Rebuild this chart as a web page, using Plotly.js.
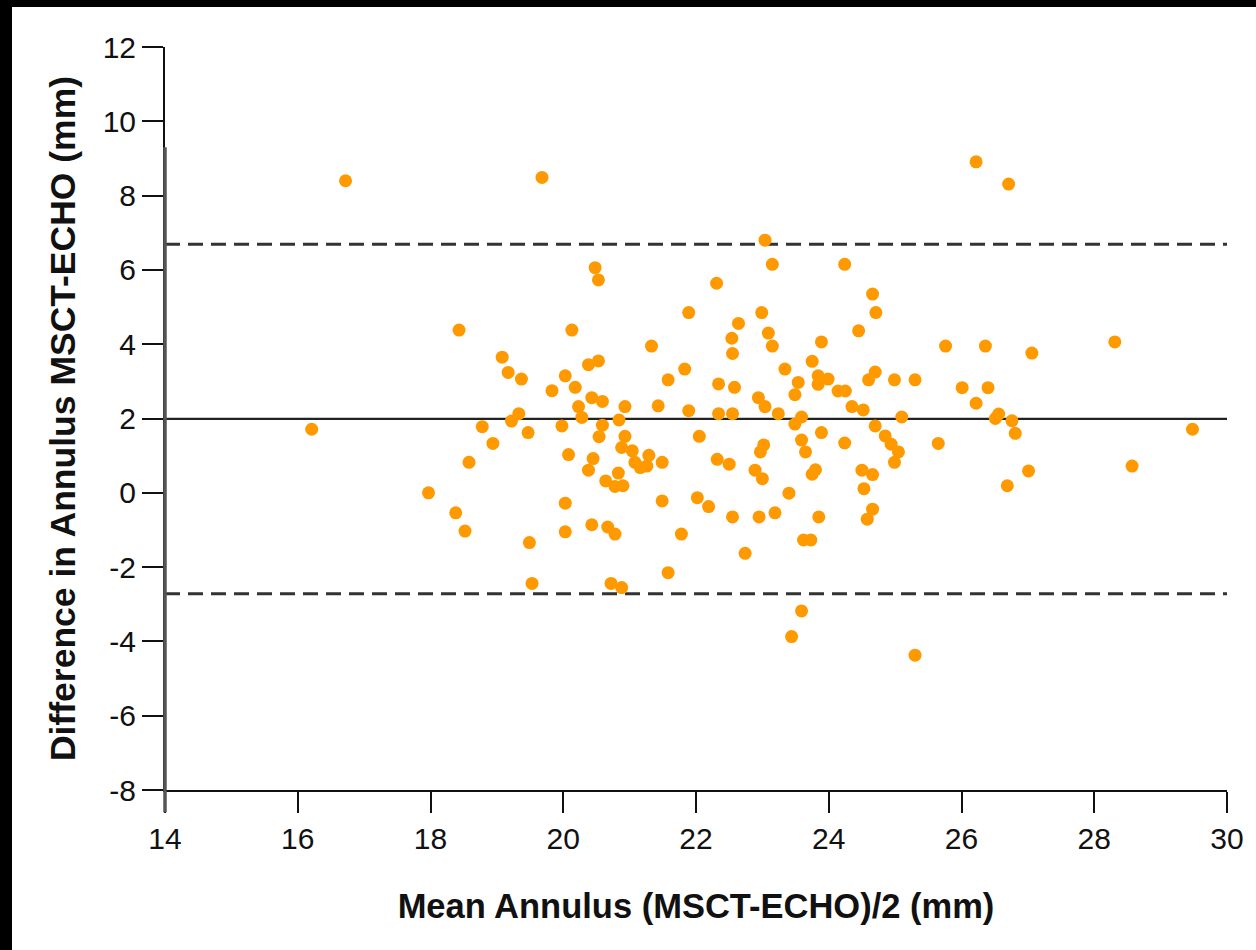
<!DOCTYPE html>
<html>
<head>
<meta charset="utf-8">
<script src="https://cdn.plot.ly/plotly-3.0.1.min.js"></script>
<style>
  html, body { margin: 0; padding: 0; background: #000; width: 1256px; height: 950px; overflow: hidden; }
  #chart { position: absolute; left: 12px; top: 7px; width: 1244px; height: 943px; background: #fff; }
</style>
</head>
<body>
<div id="chart"></div>
<script>
// Mean annulus (x) and difference MSCT-ECHO (y)
const meanAnnulus = [
  16.21, 16.72, 19.68, 20.48, 20.53, 18.43, 20.13, 19.08, 19.17, 19.37,
  20.38, 20.53, 20.03, 19.83, 20.18, 20.43, 20.59, 20.23, 20.28, 19.33,
  19.22, 18.78, 18.94, 19.47, 19.98, 20.59, 20.54, 20.08, 18.58, 20.45,
  20.38, 20.64, 17.97, 20.03, 18.38, 18.52, 20.43, 20.67, 20.03, 19.49,
  19.53, 20.72,
  23.04, 23.15, 24.24, 22.31, 24.66, 24.71, 21.89, 22.99, 22.64, 23.09,
  22.54, 23.15, 24.45, 23.89, 21.33, 22.55, 21.83, 23.75, 23.34, 21.58,
  22.34, 22.58, 23.54, 23.84, 23.84, 23.99, 23.49, 24.70, 24.60, 24.99,
  25.30, 24.14, 24.25, 24.35, 24.52, 22.94, 23.04, 23.24, 21.43, 20.93,
  21.89, 22.34, 22.55, 20.84, 23.59, 23.49, 25.10, 24.70, 22.05, 20.93,
  23.89, 23.59, 24.85, 24.24, 23.02, 22.97, 24.94, 25.05, 23.65, 20.88,
  21.04, 21.29, 21.08, 21.16, 21.26, 21.49, 22.32, 22.50, 22.89, 23.00,
  23.40, 23.75, 23.80, 24.50, 24.66, 24.53, 24.99, 20.83, 20.78, 20.90,
  21.49, 22.02, 22.19, 22.55, 22.95, 23.19, 23.85, 24.66, 24.58, 20.78,
  21.78, 23.62, 23.73, 22.74, 21.58, 20.88, 23.59, 23.44, 25.30,
  26.22, 26.71, 25.76, 26.36, 27.06, 28.31, 26.01, 26.40, 26.22, 26.56,
  26.51, 26.76, 26.81, 29.48, 25.65, 28.57, 27.01, 26.69
];
const diffAnnulus = [
  1.71, 8.40, 8.49, 6.06, 5.73, 4.38, 4.38, 3.65, 3.24, 3.06,
  3.45, 3.55, 3.15, 2.75, 2.84, 2.56, 2.46, 2.32, 2.03, 2.13,
  1.93, 1.78, 1.33, 1.62, 1.80, 1.82, 1.51, 1.03, 0.82, 0.92,
  0.61, 0.32, 0.00, -0.28, -0.54, -1.03, -0.86, -0.92, -1.05, -1.34,
  -2.44, -2.44,
  6.80, 6.15, 6.15, 5.64, 5.35, 4.85, 4.85, 4.85, 4.56, 4.30,
  4.16, 3.95, 4.36, 4.06, 3.95, 3.75, 3.33, 3.54, 3.33, 3.04,
  2.93, 2.84, 2.97, 3.15, 2.92, 3.06, 2.64, 3.25, 3.04, 3.04,
  3.04, 2.74, 2.74, 2.32, 2.23, 2.56, 2.32, 2.13, 2.34, 2.32,
  2.21, 2.13, 2.13, 1.96, 2.04, 1.85, 2.04, 1.80, 1.52, 1.52,
  1.62, 1.42, 1.53, 1.34, 1.29, 1.10, 1.31, 1.10, 1.10, 1.22,
  1.13, 1.01, 0.82, 0.68, 0.72, 0.82, 0.90, 0.77, 0.61, 0.38,
  -0.01, 0.50, 0.62, 0.61, 0.49, 0.11, 0.82, 0.53, 0.17, 0.19,
  -0.22, -0.13, -0.37, -0.65, -0.65, -0.54, -0.65, -0.44, -0.71, -1.11,
  -1.11, -1.27, -1.27, -1.63, -2.15, -2.55, -3.18, -3.87, -4.37,
  8.91, 8.31, 3.95, 3.95, 3.76, 4.06, 2.83, 2.83, 2.41, 2.12,
  2.00, 1.94, 1.60, 1.71, 1.33, 0.72, 0.59, 0.19
];
// Bland-Altman reference lines: upper limit, mean difference, lower limit
const meanDifference = [1.99];
const limitsOfAgreement = [6.69, -2.72];
const xTickValues = [14, 16, 18, 20, 22, 24, 26, 28, 30];
const yTickValues = [-8, -6, -4, -2, 0, 2, 4, 6, 8, 10, 12];

const fontFam = '"Liberation Sans", Arial, Helvetica, sans-serif';

const trace = {
  type: 'scatter',
  mode: 'markers',
  x: meanAnnulus,
  y: diffAnnulus,
  marker: { color: '#FF9900', size: 13, line: { width: 0 } },
  hoverinfo: 'x+y'
};

const shapes = [];
meanDifference.forEach(v => shapes.push({
  type: 'line', xref: 'paper', yref: 'y', x0: 0, x1: 1, y0: v, y1: v,
  line: { color: '#222', width: 2.2 }, layer: 'below'
}));
limitsOfAgreement.forEach(v => shapes.push({
  type: 'line', xref: 'paper', yref: 'y', x0: 0, x1: 1, y0: v, y1: v,
  line: { color: '#333', width: 3, dash: '15px,8px' }, layer: 'below'
}));
// thicker grey segment of the left axis line, as in the reference
shapes.push({
  type: 'line', xref: 'paper', yref: 'paper', x0: 0, x1: 0, y0: -0.03, y1: 0.865,
  line: { color: '#555', width: 3.5 }, layer: 'above'
});

const layout = {
  width: 1244, height: 943,
  paper_bgcolor: '#fff', plot_bgcolor: '#fff',
  margin: { l: 153, r: 29, t: 40, b: 160 },
  showlegend: false,
  font: { family: fontFam, color: '#111' },
  xaxis: {
    range: [14, 30], tickvals: xTickValues, ticktext: xTickValues.map(String),
    showgrid: false, zeroline: false, showline: true, linecolor: '#111', linewidth: 2,
    ticks: 'outside', ticklen: 21, tickwidth: 2, tickcolor: '#111',
    tickfont: { size: 30, family: fontFam, color: '#111' },
    title: { text: 'Mean Annulus (MSCT-ECHO)/2 (mm)', standoff: 40,
             font: { size: 34.5, family: fontFam, color: '#111', weight: 'bold' } }
  },
  yaxis: {
    range: [-8, 12], tickvals: yTickValues, ticktext: yTickValues.map(String),
    showgrid: false, zeroline: false, showline: true, linecolor: '#111', linewidth: 2,
    ticks: 'outside', ticklen: 21, tickwidth: 2, tickcolor: '#111',
    tickfont: { size: 30, family: fontFam, color: '#111' },
    title: { text: 'Difference in Annulus MSCT-ECHO (mm)', standoff: 16,
             font: { size: 35.5, family: fontFam, color: '#111', weight: 'bold' } }
  },
  shapes: shapes
};

Plotly.newPlot('chart', [trace], layout, { displayModeBar: false, staticPlot: true });
</script>
</body>
</html>
